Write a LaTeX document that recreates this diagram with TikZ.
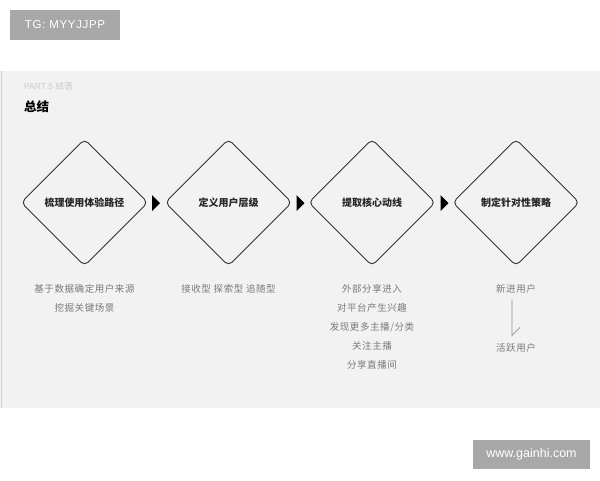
\documentclass[tikz,border=0pt]{standalone}
\usepackage{fontspec}
\setmainfont{Liberation Sans}
\newfontfamily\cjk{Noto Sans CJK SC}
\newfontfamily\cjksp{Noto Sans CJK SC}[LetterSpace=6]
\newfontfamily\tagfont{Liberation Sans}[LetterSpace=6]
\usetikzlibrary{shapes.geometric}
\definecolor{panelbg}{HTML}{F2F2F2}
\definecolor{panelline}{HTML}{D0D0D0}
\definecolor{tagbg}{HTML}{A8A8A8}
\definecolor{subtxt}{HTML}{7A7A7A}
\definecolor{parttxt}{HTML}{C8C8C8}
\definecolor{edge}{HTML}{333333}
\tikzset{
  stepdiamond/.style={diamond, draw=edge, line width=0.9pt, rounded corners=5pt,
    minimum width=127pt, minimum height=127pt, inner sep=0pt,
    font=\cjk\bfseries\fontsize{10}{12}\selectfont, text=black!85},
  subline/.style={font=\cjksp\fontsize{9.5}{12}\selectfont, text=subtxt, inner sep=0pt},
  tagbox/.style={fill=tagbg, text=white, inner sep=0pt},
}
\begin{document}
\begin{tikzpicture}[x=1pt,y=-1pt]
\useasboundingbox (0,0) rectangle (600,480);
\fill[white] (0,0) rectangle (600,480);
% panel
\fill[panelbg] (0,71) rectangle (600,408);
\draw[panelline, line width=1pt] (1,71) -- (1,408);
% tag boxes
\node[tagbox, minimum width=110pt, minimum height=30pt, font=\tagfont\fontsize{11.5}{13}\selectfont] (tg) at (65,25) {TG: MYYJJPP};
\node[tagbox, minimum width=117pt, minimum height=29pt, font=\fontsize{12.5}{14}\selectfont] (web) at (531.5,454.5) {www.gainhi.com};
% heading
\node[anchor=west, inner sep=0pt, text=parttxt, font=\fontsize{8.5}{10}\selectfont] (part) at (24,86) {PART 5 {\cjk 结语}};
\node[anchor=west, inner sep=0pt, font=\cjk\bfseries\fontsize{12.5}{14}\selectfont] (title) at (24,106.5) {总结};
% diamonds
\node[stepdiamond] (d1) at (84.5,202.5) {梳理使用体验路径};
\node[stepdiamond] (d2) at (228.5,202.5) {定义用户层级};
\node[stepdiamond] (d3) at (372,202.5) {提取核心动线};
\node[stepdiamond] (d4) at (516,202.5) {制定针对性策略};
% flow triangles
\coordinate (t1) at (156,203);
\coordinate (t2) at (300.5,203);
\coordinate (t3) at (444.5,203);
\foreach \t in {t1,t2,t3}
  \fill[black] (\t) ++(-4,-8) -- ++(8,8) -- ++(-8,8) -- cycle;
% column texts
\node[subline] (c1a) at (84.5,289) {基于数据确定用户来源};
\node[subline] (c1b) at (84.5,308) {挖掘关键场景};
\node[subline] (c2a) at (228.5,289) {接收型\ 探索型\ 追随型};
\node[subline] (c3a) at (372,289) {外部分享进入};
\node[subline] (c3b) at (372,308) {对平台产生兴趣};
\node[subline] (c3c) at (372,327) {发现更多主播/分类};
\node[subline] (c3d) at (372,346) {关注主播};
\node[subline] (c3e) at (372,365) {分享直播间};
\node[subline] (c4a) at (516,289) {新进用户};
\node[subline] (c4b) at (516,348) {活跃用户};
% small arrow in column 4
\coordinate (h1) at ([xshift=-4pt,yshift=-6pt]c4a.south);
\coordinate (h2) at ([xshift=-4pt,yshift=8pt]c4b.north);
\coordinate (h3) at ([xshift=4pt,yshift=16pt]c4b.north);
\draw[subtxt!80, line width=0.7pt] (h1) -- (h2) -- (h3);
\end{tikzpicture}
\end{document}
